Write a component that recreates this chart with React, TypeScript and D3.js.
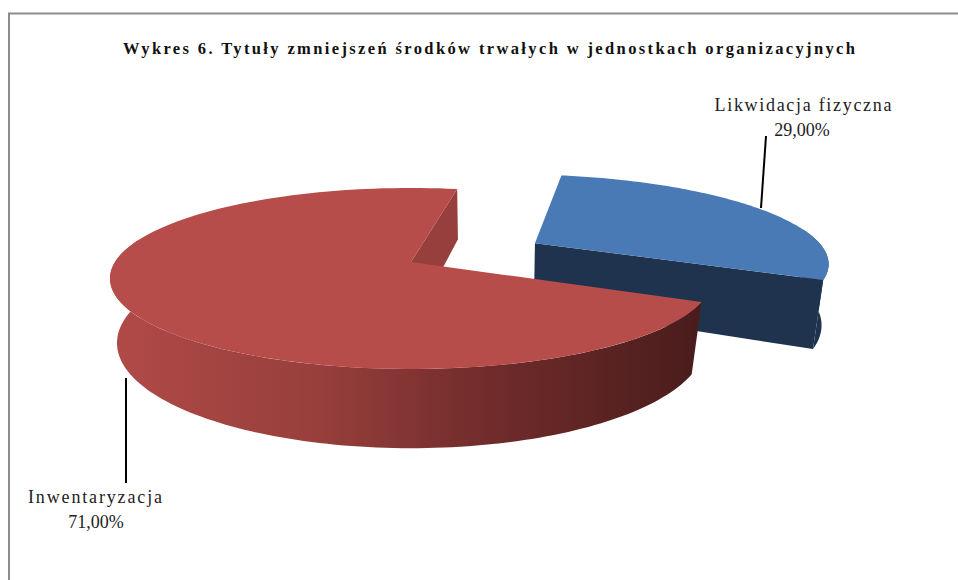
import React from "react";
import * as d3 from "d3";

const categories = ["Likwidacja fizyczna", "Inwentaryzacja"];
const shares = [29, 71];
const shareLabels = ["29,00%", "71,00%"];
const chartTitle = "Wykres 6. Tytuły zmniejszeń środków trwałych w jednostkach organizacyjnych";

const W = 958, H = 580;
const CX = 411;
const rad = (deg: number) => (deg * Math.PI) / 180;

// perspective planes of the pie
const topPlane = { cy: 262, A: 296, B: 87.5, k: 0.182 };
const botPlane = { cy: 328, A: 291, B: 103, k: 0.143 };
type Plane = typeof topPlane;

const project = (p: Plane, X: number, Y: number): [number, number] => {
  const d = 1 + p.k * Y;
  return [CX + (p.A * X) / d, p.cy - (p.B * Y) / d];
};
const onDisc = (p: Plane, a: number, ox = 0, oy = 0): [number, number] =>
  project(p, ox + Math.sin(a), oy + Math.cos(a));
const arcPts = (p: Plane, a0: number, a1: number, ox = 0, oy = 0) =>
  d3.range(0, 121).map((i) => onDisc(p, a0 + ((a1 - a0) * i) / 120, ox, oy));

const line = d3.line<[number, number]>().curve(d3.curveLinear);
const closed = (pts: [number, number][]) => line(pts) + "Z";

const pie = d3
  .pie<number>()
  .sort(null)
  .startAngle(rad(10.6))
  .endAngle(rad(370.6));
const [blue, red] = pie(shares);

const EXPLODE = 0.49;
const mid = (blue.startAngle + blue.endAngle) / 2;
const ox = EXPLODE * Math.sin(mid);
const oy = EXPLODE * Math.cos(mid);

export default function App() {
  // blue slice
  const bTop: [number, number][] = [
    project(topPlane, ox, oy),
    ...arcPts(topPlane, blue.startAngle, blue.endAngle, ox, oy),
  ];
  const bWall: [number, number][] = [
    project(topPlane, ox, oy),
    onDisc(topPlane, blue.endAngle, ox, oy),
    onDisc(botPlane, blue.endAngle, ox, oy),
    project(botPlane, ox, oy),
  ];
  const sideStart = rad(80);
  const bSide: [number, number][] = [
    ...arcPts(topPlane, sideStart, blue.endAngle, ox, oy),
    ...arcPts(botPlane, sideStart, blue.endAngle, ox, oy).reverse(),
  ];

  // red slice
  const rTop: [number, number][] = [
    project(topPlane, 0, 0),
    ...arcPts(topPlane, red.startAngle, red.endAngle),
  ];
  const rInner: [number, number][] = [
    project(topPlane, 0, 0),
    onDisc(topPlane, red.endAngle),
    onDisc(botPlane, red.endAngle),
    project(botPlane, 0, 0),
  ];
  const rSideEnd = rad(285);
  const rSide: [number, number][] = [
    ...arcPts(topPlane, red.startAngle, rSideEnd),
    ...arcPts(botPlane, red.startAngle, rSideEnd).reverse(),
  ];

  const serif = "'Liberation Serif', serif";
  return (
    <svg
      width={W}
      height={H}
      viewBox={`0 0 ${W} ${H}`}
      style={{ position: "absolute", left: 0, top: 0, background: "#fff" }}
    >
      <defs>
        <linearGradient id="redSide" gradientUnits="userSpaceOnUse" x1={110} x2={693} y1={0} y2={0}>
          <stop offset="0" stopColor="#b04a47" />
          <stop offset="0.35" stopColor="#983f3c" />
          <stop offset="0.65" stopColor="#702c2b" />
          <stop offset="1" stopColor="#4a1d1c" />
        </linearGradient>
      </defs>

      <path d="M9,580V13.5H958" fill="none" stroke="#8c8c8c" strokeWidth={2} />

      <text
        x={489}
        y={54}
        textAnchor="middle"
        fontFamily={serif}
        fontWeight="bold"
        fontSize={16.5}
        textLength={732}
        fill="#111"
      >
        {chartTitle}
      </text>

      <path d="M766,136L761,208" stroke="#000" strokeWidth={2} fill="none" />
      <path d="M126,378V483" stroke="#000" strokeWidth={2} fill="none" />

      <path d={closed(bWall)} fill="#1f334f" />
      <path d={closed(bSide)} fill="#1f334f" />
      <path d={closed(bTop)} fill="#4a7ab5" />

      <path d={closed(rInner)} fill="#963f3c" />
      <path d={closed(rSide)} fill="url(#redSide)" />
      <path d={closed(rTop)} fill="#b74d4a" />

      <g fontFamily={serif} fontSize={18} fill="#222" textAnchor="middle">
        <text x={803} y={111} textLength={177}>{categories[0]}</text>
        <text x={802} y={136}>{shareLabels[0]}</text>
        <text x={95} y={503} textLength={134}>{categories[1]}</text>
        <text x={96} y={528}>{shareLabels[1]}</text>
      </g>
    </svg>
  );
}
